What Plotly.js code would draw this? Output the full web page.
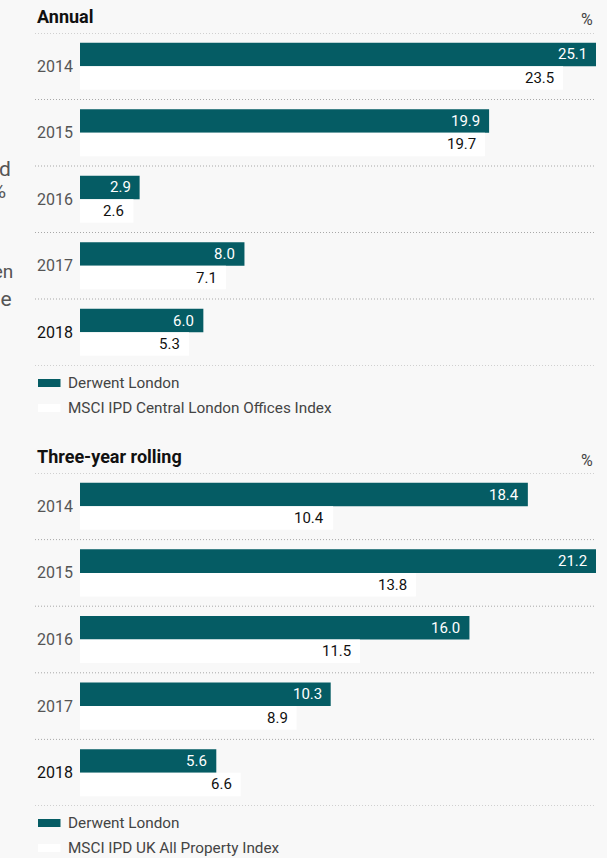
<!DOCTYPE html>
<html>
<head>
<meta charset="utf-8">
<script src="https://cdn.plot.ly/plotly-3.0.1.min.js"></script>
<style>
  html, body { margin: 0; padding: 0; background: #f8f8f8; }
  #chart { width: 607px; height: 858px; }
</style>
</head>
<body>
<div id="chart"></div>
<script>
// ---- Data ----
const years = ["2014", "2015", "2016", "2017", "2018"];
const annualDerwent = [25.1, 19.9, 2.9, 8.0, 6.0];
const annualMsci = [23.5, 19.7, 2.6, 7.1, 5.3];
const rollingDerwent = [18.4, 21.2, 16.0, 10.3, 5.6];
const rollingMsci = [10.4, 13.8, 11.5, 8.9, 6.6];
const panelTitles = ["Annual", "Three-year rolling"];
const seriesNames = ["Derwent London", "MSCI IPD Central London Offices Index", "MSCI IPD UK All Property Index"];
const unitLabel = "%";
const sideFragments = ["and", "5%", "been", "the"];

// ---- Styles / layout constants ----
const W = 607, H = 858;
const TEAL = "#055c64";
const FONT = "Roboto, 'Noto Sans', sans-serif";
const bargap = 0.293;
const px = v => v / W;
const py = v => 1 - v / H;
const plotLeft = 80, plotRight = 596, lineLeft = 35;
const panels = [
  { top: 33, bottom: 365.5, d: annualDerwent, m: annualMsci, title: panelTitles[0], mName: seriesNames[1], xa: "x", ya: "y", titleY: 16, legY: [383, 408] },
  { top: 473, bottom: 806, d: rollingDerwent, m: rollingMsci, title: panelTitles[1], mName: seriesNames[2], xa: "x2", ya: "y2", titleY: 456, legY: [823, 848] }
];

const traces = [];
const annotations = [];
const shapes = [];
const layout = {
  width: W, height: H,
  margin: { l: 0, r: 0, t: 0, b: 0 },
  paper_bgcolor: "#f8f8f8",
  plot_bgcolor: "rgba(0,0,0,0)",
  showlegend: false,
  barmode: "group",
  bargap: bargap,
  bargroupgap: 0,
  font: { family: FONT, color: "#444" },
  annotations: annotations,
  shapes: shapes
};

const half = (1 - bargap) / 2;

panels.forEach((p, k) => {
  const xk = k === 0 ? "xaxis" : "xaxis2";
  const yk = k === 0 ? "yaxis" : "yaxis2";
  layout[xk] = {
    domain: [px(plotLeft), px(plotRight)],
    range: [0, Math.max(...p.d, ...p.m)],
    showgrid: false, zeroline: false, showticklabels: false, showline: false,
    anchor: p.ya, fixedrange: true
  };
  layout[yk] = {
    domain: [py(p.bottom), py(p.top)],
    type: "category",
    categoryorder: "array", categoryarray: years,
    range: [years.length - 0.5, -0.5],
    showgrid: false, zeroline: false, showticklabels: false, showline: false,
    anchor: p.xa, fixedrange: true
  };

  traces.push({
    type: "bar", orientation: "h", x: p.d, y: years, name: seriesNames[0],
    marker: { color: TEAL, line: { width: 0 } }, xaxis: p.xa, yaxis: p.ya, hoverinfo: "skip"
  });
  traces.push({
    type: "bar", orientation: "h", x: p.m, y: years, name: p.mName,
    marker: { color: "#ffffff", line: { width: 0 } }, xaxis: p.xa, yaxis: p.ya, hoverinfo: "skip"
  });

  // value labels
  years.forEach((yr, i) => {
    annotations.push({
      xref: p.xa, yref: p.ya, x: p.d[i], y: i - half / 2,
      text: p.d[i].toFixed(1), showarrow: false, xanchor: "right", yanchor: "middle",
      xshift: -7, font: { family: FONT, size: 15, color: "#ffffff" }
    });
    annotations.push({
      xref: p.xa, yref: p.ya, x: p.m[i], y: i + half / 2,
      text: p.m[i].toFixed(1), showarrow: false, xanchor: "right", yanchor: "middle",
      xshift: -7, font: { family: FONT, size: 15, color: "#111111" }
    });
    // year labels
    const last = i === years.length - 1;
    annotations.push({
      xref: "paper", yref: p.ya, x: px(35), y: i,
      text: yr, showarrow: false, xanchor: "left", yanchor: "middle",
      font: { family: FONT, size: 16, color: last ? "#111111" : "#555555" }
    });
  });

  // dotted separators
  for (let j = 0; j <= years.length; j++) {
    shapes.push({
      type: "line", xref: "paper", yref: p.ya,
      x0: px(lineLeft), x1: px(plotRight), y0: j - 0.5, y1: j - 0.5,
      line: { color: "#a8a8a8", width: 1, dash: "1px,2px" }
    });
  }

  // panel title and unit
  annotations.push({
    xref: "paper", yref: "paper", x: px(35), y: py(p.titleY),
    text: "<b>" + p.title + "</b>", showarrow: false, xanchor: "left", yanchor: "middle",
    font: { family: FONT, size: 18, color: "#111111" }
  });
  annotations.push({
    xref: "paper", yref: "paper", x: px(595), y: py(p.titleY + 4),
    text: unitLabel, showarrow: false, xanchor: "right", yanchor: "middle",
    font: { family: FONT, size: 16, color: "#444444" }
  });

  // custom legend
  const legNames = [seriesNames[0], p.mName];
  const legColors = [TEAL, "#ffffff"];
  p.legY.forEach((ly, j) => {
    shapes.push({
      type: "rect", xref: "paper", yref: "paper",
      x0: px(38), x1: px(60.5), y0: py(ly + 4), y1: py(ly - 4),
      fillcolor: legColors[j], line: { width: 0 }
    });
    annotations.push({
      xref: "paper", yref: "paper", x: px(66), y: py(ly),
      text: legNames[j], showarrow: false, xanchor: "left", yanchor: "middle",
      font: { family: FONT, size: 15.3, color: "#444444" }
    });
  });
});

// cropped text fragments from the neighbouring column
const fragX = [13, 7.5, 15, 13.5];
const fragY = [169, 191, 271, 299];
const fragSize = [21, 21, 19, 21];
sideFragments.forEach((t, i) => {
  annotations.push({
    xref: "paper", yref: "paper", x: px(fragX[i]), y: py(fragY[i]),
    text: t, showarrow: false, xanchor: "right", yanchor: "middle",
    font: { family: FONT, size: fragSize[i], color: "#555555" }
  });
});

Plotly.newPlot("chart", traces, layout, { displayModeBar: false, staticPlot: true });
</script>
</body>
</html>
